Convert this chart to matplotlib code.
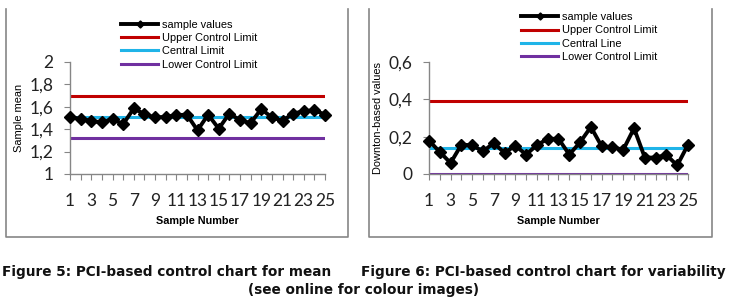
import matplotlib
matplotlib.use("Agg")
import matplotlib.pyplot as plt
from matplotlib.lines import Line2D
from matplotlib.ticker import FuncFormatter

# data
samples = list(range(1, 26))
mean_values = [1.51, 1.49, 1.475, 1.46, 1.49, 1.445, 1.585, 1.535, 1.505, 1.51,
               1.525, 1.53, 1.39, 1.53, 1.405, 1.54, 1.48, 1.455, 1.58, 1.505,
               1.475, 1.54, 1.56, 1.57, 1.53]
mean_ucl = 1.695
mean_cl = 1.51
mean_lcl = 1.32

var_values = [0.179, 0.118, 0.059, 0.157, 0.154, 0.121, 0.166, 0.113, 0.152, 0.104,
              0.155, 0.188, 0.189, 0.104, 0.17, 0.252, 0.148, 0.143, 0.13, 0.245,
              0.088, 0.088, 0.102, 0.046, 0.157]
var_ucl = 0.389
var_cl = 0.139
var_lcl = 0.0

x_labels = [str(s) if s % 2 == 1 else "" for s in samples]

W, H = 733, 300
fig = plt.figure(figsize=(W / 100, H / 100), dpi=100)

def px_axes(x0, y0, x1, y1):
    # pixel box (top-left origin) -> figure fraction
    return fig.add_axes([x0 / W, 1 - y1 / H, (x1 - x0) / W, (y1 - y0) / H])

grey = "#868686"
red = "#c00000"
cyan = "#1fb4e8"
purple = "#7030a0"

def comma(v, pos):
    s = ("%g" % round(v, 2))
    return s.replace(".", ",")

def draw_chart(ax, values, ucl, cl, lcl, ylim, ystep, ylabel, cl_name, leg_xy):
    ax.plot(samples, [ucl] * len(samples), color=red, lw=2.2, label="Upper Control Limit")
    ax.plot(samples, [cl] * len(samples), color=cyan, lw=2.2, label=cl_name)
    ax.plot(samples, [lcl] * len(samples), color=purple, lw=2.2, label="Lower Control Limit")
    ln, = ax.plot(samples, values, color="black", lw=2.8, marker="D", ms=6.5,
                  label="sample values", zorder=5, clip_on=False)
    ax.set_xlim(1, 25)
    ax.set_ylim(*ylim)
    yt = []
    v = ylim[0]
    while v <= ylim[1] + 1e-9:
        yt.append(v)
        v += ystep
    ax.set_yticks(yt)
    ax.yaxis.set_major_formatter(FuncFormatter(comma))
    ax.set_xticks(samples)
    ax.set_xticklabels(x_labels)
    for side in ["top", "right"]:
        ax.spines[side].set_visible(False)
    for side in ["left", "bottom"]:
        ax.spines[side].set_color(grey)
        ax.spines[side].set_linewidth(1)
    ax.tick_params(axis="y", length=4, color=grey, pad=8, labelsize=12.5)
    ax.tick_params(axis="x", length=4, color=grey, pad=10, labelsize=12.5)
    for t in ax.get_xticklabels() + ax.get_yticklabels():
        t.set_family("Lato")
        t.set_color("#222222")
    ax.set_xlabel("Sample Number", fontsize=7.8, fontweight="bold",
                  family="Liberation Sans", labelpad=5)
    ax.set_ylabel(ylabel, fontsize=7.9, family="Liberation Sans", labelpad=4)
    h = [ln] + ax.get_lines()[:3]
    ax.legend(handles=h, loc="upper left", bbox_to_anchor=leg_xy,
              bbox_transform=fig.transFigure, frameon=False, borderpad=0,
              borderaxespad=0, handlelength=3.4, handletextpad=0.3,
              labelspacing=0.31, numpoints=1, markerscale=0.55,
              prop={"family": "Liberation Sans", "size": 7.9})

ax1 = px_axes(70, 62, 325, 174)
draw_chart(ax1, mean_values, mean_ucl, mean_cl, mean_lcl, (1, 2), 0.2,
           "Sample mean", "Central Limit", (121 / W, 1 - 19.5 / H))

ax2 = px_axes(429, 62, 688, 174)
draw_chart(ax2, var_values, var_ucl, var_cl, var_lcl, (0, 0.6), 0.2,
           "Downton-based values", "Central Line", (521 / W, 1 - 12 / H))

# chart frames (left, right and bottom edges only)
for x0, x1 in [(6, 348), (369, 712)]:
    fig.add_artist(Line2D([x0 / W, x0 / W, x1 / W, x1 / W],
                          [1 - 9 / H, 1 - 237 / H, 1 - 237 / H, 1 - 9 / H],
                          color=grey, lw=1.2, transform=fig.transFigure))

cap = dict(fontsize=9.8, fontweight="bold", family="DejaVu Sans", color="#111111",
           va="center")
fig.text(2 / W, 1 - 272 / H, "Figure 5: PCI-based control chart for mean", ha="left", **cap)
fig.text(726 / W, 1 - 272 / H, "Figure 6: PCI-based control chart for variability", ha="right", **cap)
fig.text(364 / W, 1 - 290 / H, "(see online for colour images)", ha="center", **cap)

fig.savefig("out.png", dpi=100)
